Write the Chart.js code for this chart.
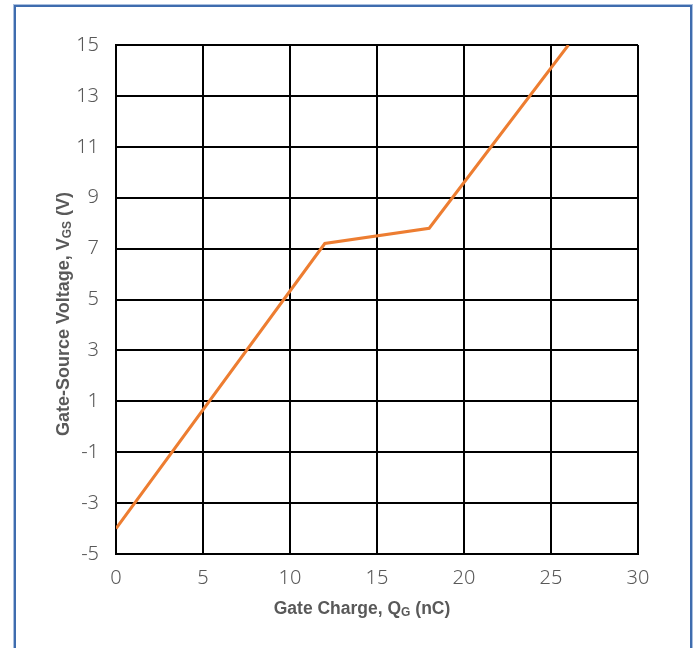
<!DOCTYPE html>
<html>
<head>
<meta charset="utf-8">
<script src="https://cdn.jsdelivr.net/npm/chart.js@4.4.0/dist/chart.umd.min.js"></script>
<style>
    body { margin: 0; background: #fff; }
    .wrap { position: relative; width: 697px; height: 648px; overflow: hidden; }
    .frame { position: absolute; left: 14px; top: 5px; width: 674px; height: 700px; border: 2px solid #3f6cae; box-shadow: 0 0 0 1px #a9bfdf; }
    canvas { position: absolute; left: 0; top: 0; }
</style>
</head>
<body>
<div class="wrap">
    <div class="frame"></div>
    <canvas id="myChart" width="697" height="648"></canvas>
</div>
<script>
const gateCharge = [0, 12, 18, 26];
const gateVoltage = [-4, 7.2, 7.8, 15];
const xTicks = [0, 5, 10, 15, 20, 25, 30];
const yTicks = [-5, -3, -1, 1, 3, 5, 7, 9, 11, 13, 15];

const points = gateCharge.map(function (q, k) {
    return { x: q, y: gateVoltage[k] };
});

// draws a title made of [text, isSubscript] pieces
function drawPieces(ctx, pieces, cx, cy, size) {
    const big = 'bold ' + size + 'px "Liberation Sans", Arial, sans-serif';
    const small = 'bold ' + Math.round(size * 0.68) + 'px "Liberation Sans", Arial, sans-serif';
    let total = 0;
    for (let p of pieces) {
        ctx.font = p[1] ? small : big;
        total += ctx.measureText(p[0]).width;
    }
    let x = cx - total / 2;
    ctx.textBaseline = 'middle';
    ctx.textAlign = 'left';
    for (let p of pieces) {
        ctx.font = p[1] ? small : big;
        ctx.fillText(p[0], x, p[1] ? cy + 4 : cy);
        x += ctx.measureText(p[0]).width;
    }
}

const axisTitles = {
    id: 'axisTitles',
    afterDraw(chart) {
        const ctx = chart.ctx;
        ctx.save();
        ctx.fillStyle = '#595959';
        drawPieces(ctx, [['Gate Charge, Q', false], ['G', true], [' (nC)', false]], 362, 609, 17.5);
        ctx.translate(64, 314);
        ctx.rotate(-Math.PI / 2);
        drawPieces(ctx, [['Gate-Source Voltage, V', false], ['GS', true], [' (V)', false]], 0, 0, 18);
        ctx.restore();
    }
};

const ctx = document.getElementById('myChart').getContext('2d');
const myChart = new Chart(ctx, {
    type: 'line',
    data: {
        datasets: [{
            data: points,
            borderColor: '#ed7d31',
            borderWidth: 3,
            pointRadius: 0,
            tension: 0
        }]
    },
    options: {
        responsive: false,
        animation: false,
        layout: { padding: { left: 0, top: 45, right: 59, bottom: 0 } },
        plugins: { legend: { display: false }, tooltip: { enabled: false } },
        scales: {
            x: {
                type: 'linear',
                min: 0,
                max: 30,
                afterBuildTicks: function (scale) {
                    scale.ticks = xTicks.map(function (v) { return { value: v }; });
                },
                afterFit: function (scale) { scale.height = 94; },
                grid: { color: '#000', lineWidth: 2, drawTicks: false },
                border: { color: '#000', width: 2 },
                ticks: { padding: 12, color: '#595959', font: { family: 'Noto Sans', size: 20, weight: 300 } }
            },
            y: {
                type: 'linear',
                min: -5,
                max: 15,
                afterBuildTicks: function (scale) {
                    scale.ticks = yTicks.map(function (v) { return { value: v }; });
                },
                afterFit: function (scale) { scale.width = 116; },
                grid: { color: '#000', lineWidth: 2, drawTicks: false },
                border: { color: '#000', width: 2 },
                ticks: { padding: 17, color: '#595959', font: { family: 'Noto Sans', size: 20, weight: 300 } }
            }
        }
    },
    plugins: [axisTitles]
});
</script>
</body>
</html>
